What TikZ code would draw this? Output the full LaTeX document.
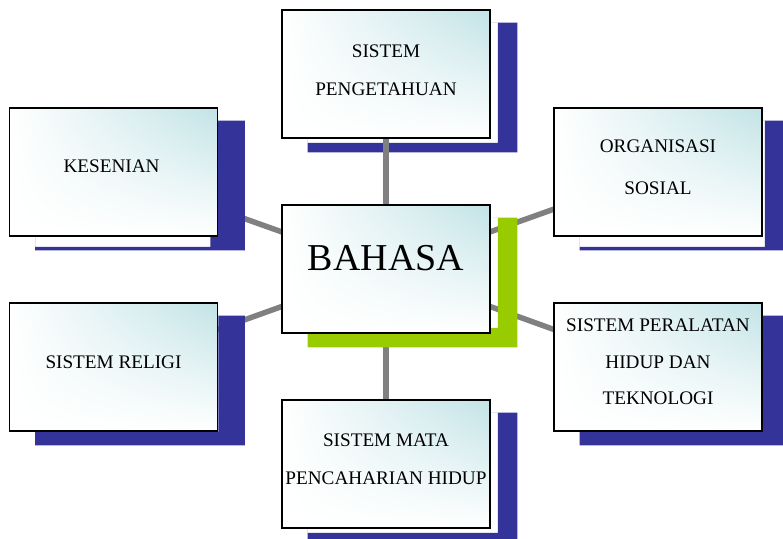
\documentclass[tikz,border=0pt]{standalone}
\usepackage{fontspec}
\setmainfont{Liberation Serif}
\usetikzlibrary{calc,shadings}
\definecolor{ombreB}{HTML}{333399}
\definecolor{ombreV}{HTML}{99CC00}
\definecolor{grisL}{HTML}{808080}
\definecolor{cyanC}{HTML}{C2E3E6}
\pgfdeclarelayer{fond}
\pgfdeclarelayer{liensC}
\pgfdeclarelayer{ombres}
\pgfdeclarelayer{liensV}
\pgfdeclarelayer{vert}
\pgfsetlayers{fond,liensC,ombres,liensV,vert,main}
\tikzset{
  boite/.style={rectangle, draw=black, line width=1.6pt, shade,
                upper left=white, lower left=white, lower right=white, upper right=cyanC,
                minimum width=208, minimum height=128, inner sep=0pt},
  texte/.style={align=center, font=\fontsize{19.2}{38}\selectfont},
  lien/.style={draw=grisL, line width=5.5pt},
}

\begin{document}
\begin{tikzpicture}[x=1pt, y=-1pt]
    \begin{pgfonlayer}{fond}
      \fill[white] (0,0) rectangle (783,538);
    \end{pgfonlayer}
    \useasboundingbox (0,0) rectangle (783,538);
    % les boites
    \node[boite] (peng) at (386,74) {};
    \node[boite] (kes) at (113.5,172) {};
    \node[boite] (org) at (658,172) {};
    \node[boite] (bahasa) at (386,269) {};
    \node[boite] (religi) at (113.5,367) {};
    \node[boite] (alat) at (658,367) {};
    \node[boite] (mata) at (386,464) {};
    % les textes
    \node[texte] (peng-t) at ($(peng)+(0,-4)$) {SISTEM\\PENGETAHUAN};
    \node[texte] (kes-t) at ($(kes)+(-2,-6)$) {KESENIAN};
    \node[texte, font=\fontsize{19.2}{42}\selectfont] (org-t) at ($(org)+(0,-5)$) {ORGANISASI\\SOSIAL};
    \node[texte, font=\fontsize{38}{44}\selectfont] (bahasa-t) at ($(bahasa)+(0,-11)$) {BAHASA};
    \node[texte] (religi-t) at ($(religi)+(0,-5)$) {SISTEM RELIGI};
    \node[texte, font=\fontsize{19.2}{36.5}\selectfont] (alat-t) at ($(alat)+(0,-5)$) {SISTEM PERALATAN\\HIDUP DAN\\TEKNOLOGI};
    \node[texte] (mata-t) at ($(mata)+(0,-5)$) {SISTEM MATA\\PENCAHARIAN HIDUP};
    % les liens
    \begin{pgfonlayer}{liensC}
      \foreach \n in {kes,org,religi,alat} \draw[lien] (bahasa.center) -- (\n.center);
    \end{pgfonlayer}
    \begin{pgfonlayer}{liensV}
      \draw[lien] (bahasa.center) -- (peng.center);
      \draw[lien] (bahasa.center) -- (mata.center);
    \end{pgfonlayer}
    % les ombres
    \begin{pgfonlayer}{ombres}
      \foreach \n/\gx/\gy in {peng/7/4, kes/-8/10, org/2/10, religi/0/0, alat/0/0, mata/7/4}
        \fill[ombreB, even odd rule] ($(\n.north west)+(26.5,13.5)$) rectangle ($(\n.south east)+(26.5,13.5)$)
             ($(\n.north west)+(26.5,13.5)$) rectangle ($(\n.south east)+(\gx,\gy)$);
    \end{pgfonlayer}
    \begin{pgfonlayer}{vert}
      \fill[ombreV, even odd rule] ($(bahasa.north west)+(26.5,13.5)$) rectangle ($(bahasa.south east)+(26.5,13.5)$)
           ($(bahasa.north west)+(26.5,13.5)$) rectangle ($(bahasa.south east)+(7,-6)$);
    \end{pgfonlayer}
\end{tikzpicture}
\end{document}
